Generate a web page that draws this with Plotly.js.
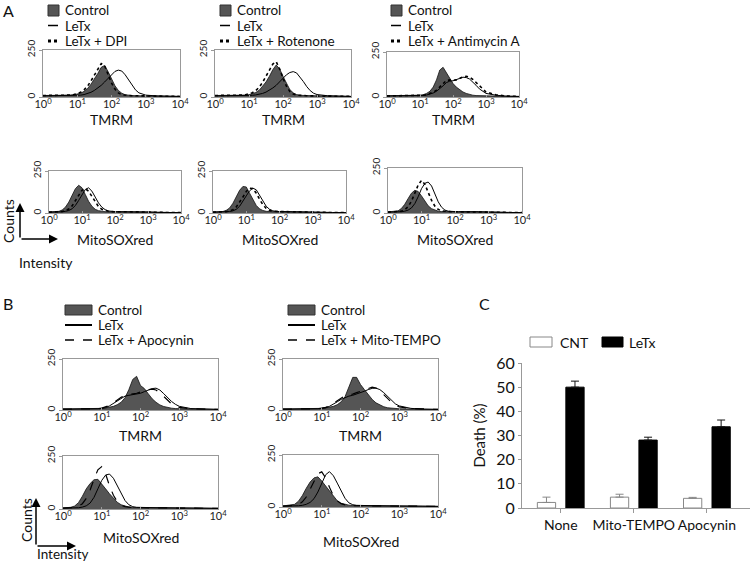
<!DOCTYPE html>
<html><head><meta charset="utf-8">
<script src="https://cdn.plot.ly/plotly-3.0.1.min.js"></script>
<style>html,body{margin:0;padding:0;background:#fff}#chart{width:750px;height:564px}</style>
</head><body><div id="chart"></div>
<script>
// ---------- data ----------
const intensity = [1,1.58,2.0,2.51,3.16,3.98,5.01,6.31,7.94,10,12.6,15.8,20,25.1,31.6,39.8,50.1,63.1,79.4,100,126,158,200,251,316,398,501,631,794,1000,1995,3981,10000];

// Panel A, TMRM
const a1Control = [8,8,8,8,9,9,9,10,12,15,20,30,45,68,95,125,158,168,135,95,60,35,20,12,9,8,7,7,6,6,5,4,3];
const a1LeTx    = [6,6,6,6,6,6,6,6,7,8,10,13,18,25,35,48,62,80,100,120,136,143,138,118,90,60,38,22,14,10,6,4,3];
const a1DPI     = [8,8,8,8,9,9,9,10,13,17,25,38,58,85,115,150,178,165,120,75,42,22,12,9,8,7,7,6,6,5,5,4,3];
const a2Control = [8,8,8,8,8,9,9,9,10,12,16,24,36,55,80,110,145,170,150,110,70,40,22,13,9,8,7,7,6,6,5,4,3];
const a2LeTx    = [6,6,6,6,6,6,6,6,7,8,9,11,14,19,26,36,48,62,80,100,118,130,135,128,108,82,55,34,20,13,7,4,3];
const a2Rotenone= [8,8,8,8,9,9,9,10,12,16,23,34,52,78,108,140,175,188,150,100,58,30,16,10,8,7,7,6,6,5,5,4,3];
const a3Control = [7,7,7,7,7,8,8,8,9,10,13,20,32,55,95,150,165,135,100,75,55,40,28,20,14,10,8,7,6,6,5,4,3];
const a3LeTx    = [6,6,6,6,6,6,6,6,7,8,9,11,15,22,32,45,62,80,88,90,95,103,110,108,100,85,65,45,30,20,10,5,3];
const a3Antimycin=[6,6,6,6,6,6,6,6,7,8,10,13,18,26,38,55,75,92,95,92,95,104,112,115,110,98,80,60,42,28,12,6,3];
// Panel A, MitoSOXred
const a4Control = [6,7,10,18,35,65,105,145,165,150,110,70,40,22,14,10,8,7,7,7,8,9,10,10,9,8,8,7,7,6,4,3,2];
const a4LeTx    = [5,5,6,7,10,15,25,45,75,110,140,150,130,95,60,35,20,12,9,8,8,8,9,9,8,8,7,7,6,6,4,3,2];
const a4DPI     = [5,6,7,9,14,24,42,70,105,135,145,130,100,65,38,22,14,10,8,8,8,8,9,9,8,8,7,7,6,6,4,3,2];
const a5Control = [6,7,9,16,30,58,95,135,158,155,118,78,45,25,15,10,8,7,7,7,7,8,8,8,8,7,7,7,6,6,4,3,2];
const a5LeTx    = [5,5,6,7,9,13,22,40,68,102,132,148,138,105,68,40,22,13,9,8,8,8,8,8,8,7,7,7,6,6,4,3,2];
const a5Rotenone= [5,5,6,8,12,20,36,62,95,128,148,145,118,82,50,28,16,11,9,8,8,8,8,8,8,7,7,7,6,6,4,3,2];
const a6Control = [6,8,12,25,48,80,110,126,120,95,65,40,24,15,10,8,7,7,7,7,7,7,8,8,8,7,7,7,6,6,4,3,2];
const a6LeTx    = [5,5,6,7,10,16,28,52,90,135,165,172,150,105,62,32,16,10,8,7,7,7,8,8,8,7,7,7,6,6,4,3,2];
const a6Antimycin=[5,6,7,10,18,35,65,110,155,181,160,115,70,38,20,12,9,8,7,7,7,7,8,8,8,7,7,7,6,6,4,3,2];
// Panel B
const b1Control = [5,5,5,5,5,5,6,6,7,8,10,13,18,26,38,60,100,150,165,120,105,80,55,38,25,17,12,9,7,6,5,4,3];
const b1LeTx    = [4,4,4,4,4,4,5,5,6,8,12,20,32,45,58,68,72,75,78,82,90,98,105,107,98,80,60,42,28,18,7,4,3];
const b1Apocynin= [4,4,4,4,4,4,5,5,6,9,14,22,35,50,62,72,75,78,82,88,95,100,102,98,85,65,45,30,20,13,6,4,3];
const b2Control = [5,5,5,5,5,5,6,6,7,8,10,13,18,26,40,65,110,160,160,125,100,75,52,35,24,16,11,9,7,6,5,4,3];
const b2LeTx    = [4,4,4,4,4,4,5,5,6,8,11,18,28,40,52,62,68,72,78,85,92,100,106,107,100,85,65,45,30,20,8,4,3];
const b2MitoTEMPO=[4,4,4,4,4,4,5,5,6,9,13,21,33,47,60,70,75,78,85,92,100,108,112,108,95,75,55,38,25,15,7,4,3];
const b3Control = [5,8,14,30,60,95,120,138,140,120,95,72,50,32,20,13,9,7,7,6,6,6,6,7,7,6,6,6,6,6,5,4,3];
const b3LeTx    = [4,4,5,6,9,15,28,55,95,135,160,165,145,110,70,40,20,11,8,7,6,6,6,6,6,6,6,6,5,5,5,4,3];
const b3Apocynin= [4,5,7,12,25,50,90,140,185,200,165,110,65,35,18,11,8,7,6,6,6,6,6,6,6,6,6,6,5,5,5,4,3];
const b4Control = [5,8,13,28,55,90,120,140,145,125,100,75,50,30,18,12,9,7,7,6,6,6,6,7,7,6,6,6,6,6,5,4,3];
const b4LeTx    = [4,4,5,6,8,13,22,40,72,115,155,170,150,115,75,42,20,11,8,7,6,6,6,6,6,6,6,6,5,5,5,4,3];
const b4MitoTEMPO=[4,5,7,12,25,48,85,130,160,169,140,95,55,30,16,10,8,7,6,6,6,6,6,6,6,6,6,6,5,5,5,4,3];

// tick labels
const logTickVals = [1,10,100,1000,10000];
const logTickText = ['10<sup>0</sup>','10<sup>1</sup>','10<sup>2</sup>','10<sup>3</sup>','10<sup>4</sup>'];
const countTickVals = [0,250];

// Panel C
const deathCategories = ['None','Mito-TEMPO','Apocynin'];
const cntDeath = [2.3,4.5,4.0];
const cntDeathErr = [2.2,1.2,0.4];
const letxDeath = [50,28.1,33.6];
const letxDeathErr = [2.5,1.2,2.8];
const noDownErr = [0,0,0];

// ---------- layout helpers ----------
const W = 750, H = 564;
const px = v => v / W;
const py = v => 1 - v / H;
const FONT = 'Lato, "Open Sans", sans-serif';

const panels = [
  {box:[43,180,50,97],  title:'TMRM',       ty:120, ctrl:a1Control, letx:a1LeTx, third:a1DPI,        thirdName:'LeTx + DPI',        dash:'dot'},
  {box:[215,351,50,97], title:'TMRM',       ty:120, ctrl:a2Control, letx:a2LeTx, third:a2Rotenone,   thirdName:'LeTx + Rotenone',   dash:'dot'},
  {box:[387,519,52,97], title:'TMRM',       ty:120, ctrl:a3Control, letx:a3LeTx, third:a3Antimycin,  thirdName:'LeTx + Antimycin A',dash:'dot'},
  {box:[49,181,171,213],title:'MitoSOXred', ty:240, ctrl:a4Control, letx:a4LeTx, third:a4DPI,        thirdName:'LeTx + DPI',        dash:'dot'},
  {box:[213,346,171,213],title:'MitoSOXred',ty:240, ctrl:a5Control, letx:a5LeTx, third:a5Rotenone,   thirdName:'LeTx + Rotenone',   dash:'dot'},
  {box:[388,522,168,213],title:'MitoSOXred',ty:240, ctrl:a6Control, letx:a6LeTx, third:a6Antimycin,  thirdName:'LeTx + Antimycin A',dash:'dot'},
  {box:[63,218,359,410], title:'TMRM',      ty:435, ctrl:b1Control, letx:b1LeTx, third:b1Apocynin,   thirdName:'LeTx + Apocynin',   dash:'dash'},
  {box:[283,438,359,410],title:'TMRM',      ty:435, ctrl:b2Control, letx:b2LeTx, third:b2MitoTEMPO,  thirdName:'LeTx + Mito-TEMPO', dash:'dash'},
  {box:[63,218,456,509], title:'MitoSOXred',ty:537, ctrl:b3Control, letx:b3LeTx, third:b3Apocynin,   thirdName:'LeTx + Apocynin',   dash:'dash'},
  {box:[283,438,455,507],title:'MitoSOXred',ty:541, ctrl:b4Control, letx:b4LeTx, third:b4MitoTEMPO,  thirdName:'LeTx + Mito-TEMPO', dash:'dash'}
];

const data = [];
const layout = {
  width: W, height: H, margin:{l:0,r:0,t:0,b:0},
  paper_bgcolor:'#fff', plot_bgcolor:'#fff',
  font:{family:FONT, color:'#111', size:12},
  showlegend:false, barmode:'overlay',
  shapes:[], annotations:[]
};
const S = layout.shapes, A = layout.annotations;
function txt(text, x, y, size, opts) {
  A.push(Object.assign({text:text, x:px(x), y:py(y), xref:'paper', yref:'paper',
    xanchor:'left', yanchor:'middle', showarrow:false, font:{size:size, color:'#111', family:FONT}}, opts || {}));
}

panels.forEach((p, i) => {
  const k = i + 1;
  const xa = k === 1 ? 'x' : 'x' + k;
  const ya = k === 1 ? 'y' : 'y' + k;
  const [x0, x1, yt, yb] = p.box;
  data.push({type:'scatter', mode:'lines', x:intensity, y:p.ctrl, xaxis:xa, yaxis:ya, name:'Control',
    fill:'tozeroy', fillcolor:'#555555', line:{color:'#111', width:0.8}, hoverinfo:'skip'});
  data.push({type:'scatter', mode:'lines', x:intensity, y:p.letx, xaxis:xa, yaxis:ya, name:'LeTx',
    line:{color:'#000', width:1}, hoverinfo:'skip'});
  data.push({type:'scatter', mode:'lines', x:intensity, y:p.third, xaxis:xa, yaxis:ya, name:p.thirdName,
    line:{color:'#000', width:p.dash === 'dot' ? 1.6 : 1.2, dash:p.dash}, hoverinfo:'skip'});
  layout['xaxis' + (k === 1 ? '' : k)] = {
    domain:[px(x0), px(x1)], anchor:ya, type:'log', range:[0,4],
    tickvals:logTickVals, ticktext:logTickText, tickfont:{size:11, color:'#222'},
    ticks:'inside', ticklen:2, tickcolor:'#999', ticklabelstandoff:-3,
    showline:true, mirror:true, linecolor:'#999', linewidth:1,
    showgrid:false, zeroline:false, fixedrange:true
  };
  layout['yaxis' + (k === 1 ? '' : k)] = {
    domain:[py(yb), py(yt)], anchor:xa, range:[0,250],
    tickvals:countTickVals, tickangle:-90, tickfont:{size:10, color:'#222'},
    ticks:'outside', ticklen:3, tickcolor:'#999',
    showline:true, mirror:true, linecolor:'#999', linewidth:1,
    showgrid:false, zeroline:false, fixedrange:true
  };
  // axis title (placed as text under the tick labels)
  txt(p.title, (x0 + x1) / 2, p.ty, 14, {xanchor:'center'});
});

// Panel C bars
data.push({type:'bar', name:'CNT', x:deathCategories, y:cntDeath, xaxis:'x11', yaxis:'y11',
  width:0.25, offset:-0.32, marker:{color:'#fff', line:{color:'#888', width:1}},
  error_y:{type:'data', symmetric:false, array:cntDeathErr, arrayminus:noDownErr, color:'#888', thickness:1, width:4}});
data.push({type:'bar', name:'LeTx', x:deathCategories, y:letxDeath, xaxis:'x11', yaxis:'y11',
  width:0.25, offset:0.07, marker:{color:'#000', line:{color:'#000', width:1}},
  error_y:{type:'data', symmetric:false, array:letxDeathErr, arrayminus:noDownErr, color:'#111', thickness:1, width:4}});
layout.xaxis11 = {domain:[px(522), 1], anchor:'y11', type:'category', range:[-0.53, 2.59],
  showline:true, linecolor:'#999', linewidth:1, ticks:'outside', ticklen:4, tickcolor:'#999',
  tickfont:{size:14, color:'#111'}, showgrid:false, zeroline:false, fixedrange:true};
layout.yaxis11 = {domain:[py(508), py(363)], anchor:'x11', range:[0,60], dtick:10,
  showline:true, linecolor:'#999', linewidth:1, ticks:'outside', ticklen:3, tickcolor:'#999',
  tickfont:{size:16, color:'#111'}, showgrid:false, zeroline:false, fixedrange:true,
  title:{text:'Death (%)', font:{size:15, color:'#111'}, standoff:6}};

// ---------- legends (keys drawn as shapes + text) ----------
function rect(x0, x1, y0, y1, fill, line) {
  S.push({type:'rect', xref:'paper', yref:'paper', x0:px(x0), x1:px(x1), y0:py(y1), y1:py(y0),
    fillcolor:fill, line:{color:line, width:1}});
}
function hline(x0, x1, y, width, dash) {
  S.push({type:'line', xref:'paper', yref:'paper', x0:px(x0), x1:px(x1), y0:py(y), y1:py(y),
    line:{color:'#000', width:width, dash:dash || 'solid'}});
}
// Panel A legends
[[48,'LeTx + DPI'],[220,'LeTx + Rotenone'],[391,'LeTx + Antimycin A']].forEach(([lx, label]) => {
  rect(lx, lx + 11, 5, 16, '#555555', '#333');
  hline(lx, lx + 10, 25.5, 1.5);
  hline(lx, lx + 12, 41, 3, 'dot');
  txt('Control', lx + 15, 10, 13.5);
  txt('LeTx', lx + 15, 25.5, 13.5);
  txt(label, lx + 15, 41, 13.5);
});
// Panel B legends
[[65,'LeTx + Apocynin'],[288,'LeTx + Mito-TEMPO']].forEach(([lx, label]) => {
  rect(lx, lx + 27, 305, 315, '#555555', '#333');
  hline(lx, lx + 27, 325, 2);
  hline(lx, lx + 27, 340, 1.5, 'dash');
  txt('Control', lx + 31, 310, 13.5);
  txt('LeTx', lx + 31, 325, 13.5);
  txt(label, lx + 31, 340, 13.5);
});
// Panel C legend
rect(530, 552, 337, 347, '#fff', '#888');
txt('CNT', 558, 342, 14);
rect(602, 623, 337, 347, '#000', '#000');
txt('LeTx', 627, 342, 14);

// Panel letters
txt('A', 1, 11, 16);
txt('B', 1, 303, 16);
txt('C', 477, 303, 16);

// Counts / Intensity keys
function arrow(hx, hy, ax, ay) {
  A.push({text:'', x:px(hx), y:py(hy), xref:'paper', yref:'paper', ax:ax, ay:ay,
    showarrow:true, arrowhead:2, arrowsize:1.2, arrowwidth:1.5, arrowcolor:'#000', standoff:0, startstandoff:0});
}
arrow(20, 203, 0, 36);
arrow(58, 239, -38, 0);
txt('Counts', 8, 221, 14, {xanchor:'center', textangle:-90});
txt('Intensity', 17, 262, 14);
arrow(36, 498, 0, 48);
arrow(76, 546, -40, 0);
txt('Counts', 26, 520, 14, {xanchor:'center', textangle:-90});
txt('Intensity', 35, 554, 13.5);

Plotly.newPlot('chart', data, layout, {staticPlot:true, displayModeBar:false});
</script>
</body></html>
